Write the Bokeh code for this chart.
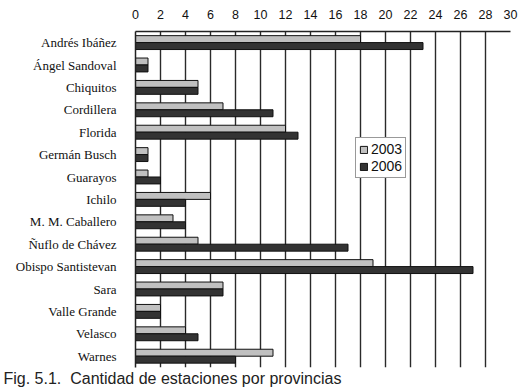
from bokeh.plotting import figure
from bokeh.models import FactorRange, Legend, LegendItem, Title, FixedTicker, ColumnDataSource
from bokeh.transform import dodge
from bokeh.embed import file_html
from bokeh.resources import INLINE

provinces = ["Andrés Ibáñez", "Ángel Sandoval", "Chiquitos", "Cordillera", "Florida",
             "Germán Busch", "Guarayos", "Ichilo", "M. M. Caballero", "Ñuflo de Chávez",
             "Obispo Santistevan", "Sara", "Valle Grande", "Velasco", "Warnes"]
v2003 = [18, 1, 5, 7, 12, 1, 1, 6, 3, 5, 19, 7, 2, 4, 11]
v2006 = [23, 1, 5, 11, 13, 1, 2, 4, 4, 17, 27, 7, 2, 5, 8]
series_labels = ["2003", "2006"]
x_ticks = list(range(0, 31, 2))
caption = "Fig. 5.1. \u00a0Cantidad de estaciones por provincias"

src = ColumnDataSource(dict(prov=provinces, v2003=v2003, v2006=v2006))

p = figure(width=531, height=391,
           y_range=FactorRange(factors=provinces[::-1], range_padding=0),
           x_range=(0, 30), x_axis_location="above",
           output_backend="svg", toolbar_location=None,
           min_border_left=135, min_border_right=21,
           min_border_top=31, min_border_bottom=24)
p.outline_line_color = None
p.background_fill_color = "white"

r1 = p.hbar(y=dodge("prov", 0.16, range=p.y_range), right="v2003", left=0, height=0.31,
            fill_color="#c0c0c0", line_color="#111111", line_width=1, source=src)
r2 = p.hbar(y=dodge("prov", -0.15, range=p.y_range), right="v2006", left=0, height=0.31,
            fill_color="#333333", line_color="#111111", line_width=1, source=src)

# x axis (top)
xa = p.xaxis[0]
xa.ticker = FixedTicker(ticks=x_ticks)
xa.major_tick_in = 0
xa.major_tick_out = 0
xa.minor_tick_in = 0
xa.minor_tick_out = 0
xa.major_label_standoff = 13
xa.major_label_text_font = "Liberation Sans"
xa.major_label_text_font_size = "12.5px"
xa.major_label_text_color = "#111111"
xa.axis_line_color = "#222222"
xa.axis_line_width = 1.5

# y axis
ya = p.yaxis[0]
ya.major_tick_in = 0
ya.major_tick_out = 0
ya.minor_tick_in = 0
ya.minor_tick_out = 0
ya.major_label_standoff = 19
ya.major_label_text_font = "Liberation Serif"
ya.major_label_text_font_size = "13px"
ya.major_label_text_color = "#111111"
ya.axis_line_color = "#222222"
ya.axis_line_width = 1.5

p.ygrid.grid_line_color = None
p.xgrid.ticker = FixedTicker(ticks=x_ticks)
p.xgrid.grid_line_color = "#2a2a2a"
p.xgrid.grid_line_width = 1.4

legend = Legend(items=[LegendItem(label=series_labels[0], renderers=[r1]),
                       LegendItem(label=series_labels[1], renderers=[r2])],
                location=(220, 189))
legend.border_line_color = "#333333"
legend.border_line_width = 1
legend.background_fill_color = "white"
legend.background_fill_alpha = 1
legend.label_text_font = "Liberation Sans"
legend.label_text_font_size = "14px"
legend.label_text_color = "#111111"
legend.glyph_width = 9
legend.glyph_height = 9
legend.label_standoff = 3
legend.spacing = 1
legend.padding = 3
legend.margin = 0
legend.label_height = 16
p.add_layout(legend)

cap = Title(text=caption, align="left", offset=-132, standoff=0,
            text_font="Liberation Sans", text_font_size="16px", text_color="#222222",
            text_font_style="normal")
p.add_layout(cap, "below")

open("out.html", "w").write(file_html(p, INLINE))
